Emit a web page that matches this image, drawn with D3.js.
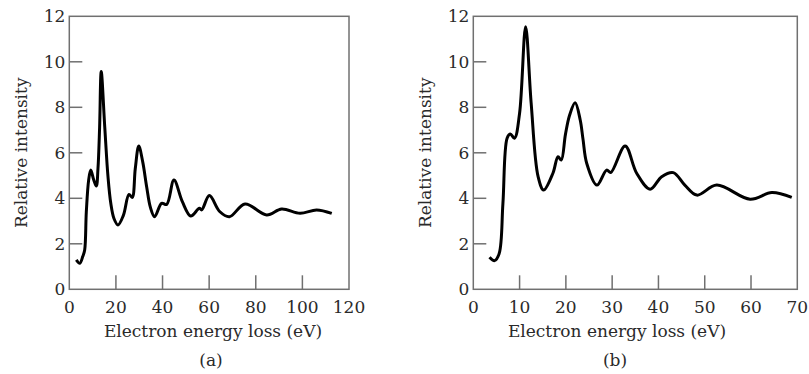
<!DOCTYPE html>
<html>
<head>
<meta charset="utf-8">
<script src="https://cdn.jsdelivr.net/npm/d3@7"></script>
<style>
  body { margin: 0; background: #fff; }
  text { font-family: "DejaVu Serif", serif; fill: #2a2a2a; }
</style>
</head>
<body>
<script>
// panel (a) data
let xA = [3, 4.5, 5.8, 6.6, 7.3, 8.3, 9.2, 10.5, 11.6, 12.3, 13.0, 13.7, 15.2, 16.6, 17.8, 19.2, 20.9, 23.2, 25.6, 27, 28.3, 29.8, 31.5, 33.2, 34.8, 36.6, 39.6, 41.8, 44.9, 48.5, 52.1, 55.8, 56.8, 60.1, 64.5, 68.7, 75.4, 84.7, 91.1, 99, 106.1, 112.6];
let yA = [1.29, 1.14, 1.45, 1.73, 3.4, 4.8, 5.24, 4.8, 4.54, 5.3, 7.1, 9.57, 7.15, 4.95, 3.78, 3.1, 2.83, 3.25, 4.17, 4.04, 5.3, 6.3, 5.6, 4.5, 3.6, 3.19, 3.78, 3.73, 4.8, 3.85, 3.22, 3.56, 3.49, 4.12, 3.42, 3.19, 3.75, 3.27, 3.53, 3.34, 3.49, 3.34];

// panel (b) data
let xB = [3.5, 4.6, 5.6, 6.4, 7.3, 8.0, 8.9, 10.0, 11.3, 12.5, 14.0, 15.2, 17.2, 18.3, 19.0, 19.9, 20.8, 22.0, 23.1, 23.7, 24.5, 26.7, 28.8, 29.7, 32.8, 35.3, 38.2, 40.7, 43.2, 45.7, 48.3, 52.6, 59.8, 64.5, 68.8];
let yB = [1.41, 1.26, 1.58, 3.78, 6.64, 6.83, 6.64, 7.74, 11.54, 8.18, 4.95, 4.36, 5.1, 5.83, 5.68, 6.8, 7.65, 8.2, 7.44, 6.6, 5.54, 4.58, 5.24, 5.13, 6.30, 5.10, 4.40, 4.95, 5.13, 4.58, 4.14, 4.58, 3.96, 4.25, 4.04];

let yTicks = [0, 2, 4, 6, 8, 10, 12];
let xTicksA = [0, 20, 40, 60, 80, 100, 120];
let xTicksB = [0, 10, 20, 30, 40, 50, 60, 70];

let svg = d3.select("body").append("svg")
  .attr("width", 809)
  .attr("height", 374);

function panel(xs, ys, xTicks, xMax, left, right, labelX, tag) {
  let top = 16.3, bottom = 289.3;
  let x = d3.scaleLinear().domain([0, xMax]).range([left, right]);
  let y = d3.scaleLinear().domain([0, 12]).range([bottom, top]);
  let g = svg.append("g");

  // frame
  g.append("rect")
    .attr("x", left).attr("y", top)
    .attr("width", right - left).attr("height", bottom - top)
    .attr("fill", "none").attr("stroke", "#707070").attr("stroke-width", 1.5);

  // inward ticks
  yTicks.slice(1, -1).forEach(t =>
    g.append("line")
      .attr("x1", left).attr("x2", left + 13)
      .attr("y1", y(t)).attr("y2", y(t))
      .attr("stroke", "#707070").attr("stroke-width", 1.5));
  xTicks.slice(1, -1).forEach(t =>
    g.append("line")
      .attr("x1", x(t)).attr("x2", x(t))
      .attr("y1", bottom).attr("y2", bottom - 14)
      .attr("stroke", "#707070").attr("stroke-width", 1.5));

  // tick labels
  yTicks.forEach(t =>
    g.append("text")
      .attr("x", left - 4).attr("y", y(t) + 6)
      .attr("text-anchor", "end")
      .attr("font-size", 17)
      .text(t));
  xTicks.forEach(t =>
    g.append("text")
      .attr("x", x(t)).attr("y", 313)
      .attr("text-anchor", "middle")
      .attr("font-size", 17)
      .text(t));

  // axis titles
  g.append("text")
    .attr("x", labelX).attr("y", 337)
    .attr("text-anchor", "middle")
    .attr("font-size", 17)
    .text("Electron energy loss (eV)");
  g.append("text")
    .attr("transform", "translate(" + (left - 42) + "," + ((top + bottom) / 2) + ") rotate(-90)")
    .attr("text-anchor", "middle")
    .attr("font-size", 17)
    .text("Relative intensity");
  g.append("text")
    .attr("x", labelX - 2).attr("y", 366)
    .attr("text-anchor", "middle")
    .attr("font-size", 17)
    .text(tag);

  // the curve
  let pts = xs.map((v, i) => [x(v), y(ys[i])]);
  g.append("path")
    .datum(pts)
    .attr("d", d3.line().curve(d3.curveCatmullRom.alpha(0.5)))
    .attr("fill", "none")
    .attr("stroke", "#000")
    .attr("stroke-width", 3)
    .attr("stroke-linejoin", "round");
}

panel(xA, yA, xTicksA, 120, 69.3, 349, 213, "(a)");
panel(xB, yB, xTicksB, 70, 473.3, 797.3, 617, "(b)");
</script>
</body>
</html>
